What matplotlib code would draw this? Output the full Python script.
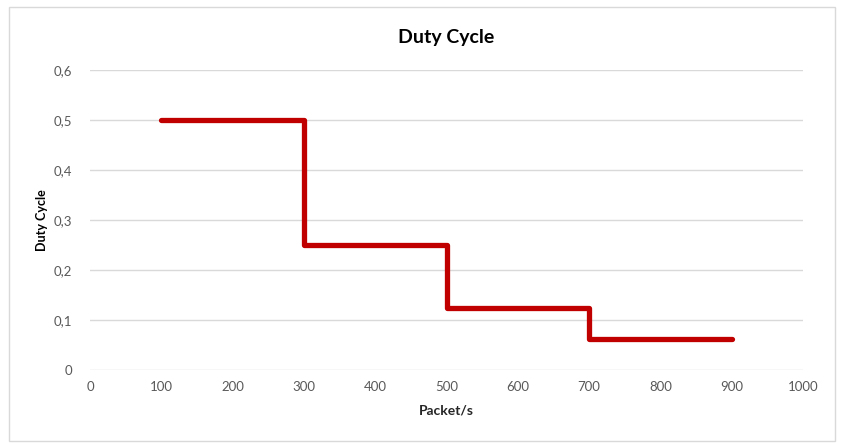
import matplotlib
matplotlib.use("Agg")
import matplotlib.pyplot as plt
from matplotlib.patches import Rectangle

x_vals = [100, 300, 300, 500, 500, 700, 700, 900]
y_vals = [0.5, 0.5, 0.25, 0.25, 0.125, 0.125, 0.0625, 0.0625]
x_ticks = [0, 100, 200, 300, 400, 500, 600, 700, 800, 900, 1000]
y_ticks = [0, 0.1, 0.2, 0.3, 0.4, 0.5, 0.6]
y_tick_labels = ["0", "0,1", "0,2", "0,3", "0,4", "0,5", "0,6"]

plt.rcParams['font.family'] = ['Lato', 'DejaVu Sans']

fig = plt.figure(figsize=(8.41, 4.44), dpi=100)
fig.patches.append(Rectangle((9/841, 1-441/444), (835-9)/841, (441-7)/444,
                             transform=fig.transFigure, fill=False,
                             edgecolor='#d9d9d9', linewidth=1))
ax = fig.add_axes([90/841, 1-370/444, (803-90)/841, 300/444])
ax.plot(x_vals, y_vals, color='#c00000', linewidth=3.8,
        solid_capstyle='round', solid_joinstyle='round')
ax.set_xlim(0, 1000)
ax.set_ylim(0, 0.6)
ax.set_xticks(x_ticks)
ax.set_yticks(y_ticks)
ax.set_yticklabels(y_tick_labels)
ax.tick_params(length=0, labelsize=9.5, colors='#595959', pad=8)
ax.tick_params(axis='y', pad=13)
for s in ax.spines.values():
    s.set_visible(False)
ax.grid(axis='y', color='#d9d9d9', linewidth=1)
ax.set_axisbelow(True)
ax.set_xlabel("Packet/s", fontsize=10, fontweight='bold', color='#262626', labelpad=8)
ax.set_ylabel("Duty Cycle", fontsize=9, fontweight='bold', color='#000000', labelpad=4)
fig.text((90+803)/2/841, 1-38/444, "Duty Cycle", ha='center', va='center',
         fontsize=14, fontweight='bold', color='#000000')
fig.savefig("out.png", dpi=100)
